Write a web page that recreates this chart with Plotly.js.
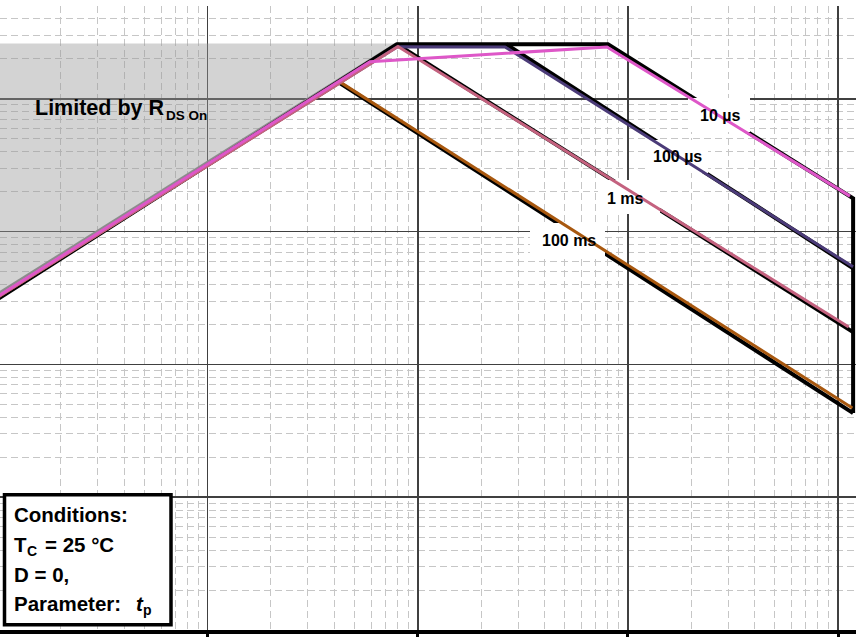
<!DOCTYPE html>
<html><head><meta charset="utf-8">
<script src="https://cdn.plot.ly/plotly-3.0.1.min.js"></script>
<style>html,body{margin:0;padding:0;background:#fff}#chart{width:856px;height:637px}</style>
</head><body><div id="chart"></div>
<script>
// ---- Data (drain-source voltage in V, drain current in A) ----
const rdsFillV = [0.1, 7.9, 0.1];
const rdsFillI = [3.35, 261, 261];
const rdsLineV = [0.1, 7.9];
const rdsLineI = [3.4, 261];

// black outline curves
const envelopeV = [0.1, 7.96, 80.4, 1180, 1180];
const envelopeI = [3.1, 258, 258, 17.8, 0.43];
const black100usV = [26.3, 1180];
const black100usI = [258, 5.3];
const black1msV = [7.96, 1180];
const black1msI = [258, 1.75];
const black100msV = [4.27, 1180];
const black100msI = [131, 0.43];

// coloured pulse-width curves
const us10V = [0.1, 5.92, 79.5, 1140];
const us10I = [3.25, 190, 246, 18.5];
const us100V = [0.1, 8.0, 26.0, 1180];
const us100I = [3.2, 247, 246, 5.43];
const ms1V = [0.1, 8.05, 1125];
const ms1I = [3.2, 248, 1.91];
const ms100V = [0.1, 4.27, 1170];
const ms100I = [3.2, 133.6, 0.47];

const curveLabels = ['10 µs', '100 µs', '1 ms', '100 ms'];

// ---- axis geometry ----
const W = 856, PT = 6, PB = 630;
const xRange = [Math.log10(0.1027), Math.log10(1218)];
const yRange = [-2, Math.log10(500)];
const px = p => p / W;
const py = q => (PB - q) / (PB - PT);
// pixel -> axis value (used only to place label backgrounds)
const pv = p => Math.pow(10, xRange[0] + px(p) * (xRange[1] - xRange[0]));
const qi = q => Math.pow(10, yRange[0] + py(q) * (yRange[1] - yRange[0]));

function line(x, y, color, width) {
  return {x: x, y: y, type: 'scatter', mode: 'lines', hoverinfo: 'skip',
          line: {color: color, width: width}};
}

// white backgrounds behind curve labels (above black outlines, below coloured curves)
const boxes = [
  [688, 750, 98, 132],
  [645, 708, 140, 173],
  [598, 660, 180, 214],
  [530, 605, 223, 257]
];
const boxTraces = boxes.map(b => ({
  x: [pv(b[0]), pv(b[1]), pv(b[1]), pv(b[0])],
  y: [qi(b[2]), qi(b[2]), qi(b[3]), qi(b[3])],
  type: 'scatter', mode: 'none', fill: 'toself', fillcolor: '#fff', hoverinfo: 'skip'
}));

const traces = [
  {x: rdsFillV, y: rdsFillI, type: 'scatter', mode: 'none', fill: 'toself',
   fillcolor: 'rgba(150,150,150,0.42)', hoverinfo: 'skip'},
  line(rdsLineV, rdsLineI, '#8c8c8c', 2.5),
  line(envelopeV, envelopeI, '#000', 4),
  line(black100usV, black100usI, '#000', 4),
  line(black1msV, black1msI, '#000', 4),
  line(black100msV, black100msI, '#000', 4),
  ...boxTraces,
  line(us100V, us100I, '#4b3b78', 3),
  line(ms100V, ms100I, '#a8580f', 3),
  line(ms1V, ms1I, '#c4627f', 3),
  line(us10V, us10I, '#de57c8', 3)
];

const shapes = [{type: 'rect', xref: 'paper', yref: 'paper',
  x0: px(4.5), x1: px(171), y0: py(624.7), y1: py(494.7),
  fillcolor: '#fff', line: {color: '#000', width: 3.5}, layer: 'above'}];

const font = 'Liberation Sans, Arial, sans-serif';
const annotations = [];
function txt(text, left, cy, size, anchor, italic) {
  annotations.push({text: text, xref: 'paper', yref: 'paper', x: px(left), y: py(cy),
    xanchor: anchor || 'left', yanchor: 'middle', showarrow: false, borderpad: 0, borderwidth: 0,
    font: {family: font, size: size, color: '#000', weight: 'bold', style: italic ? 'italic' : 'normal'}});
}
const labelPos = [[720, 115], [677, 156.5], [625.5, 198], [569, 240]];
curveLabels.forEach((t, i) => txt(t, labelPos[i][0], labelPos[i][1], 16, 'center'));

// "Limited by R_DS On"
txt('Limited by R', 34.5, 108.4, 21.5);
txt('DS On', 165.5, 115.8, 13.5);

// Conditions box
txt('Conditions:', 14, 514.8, 20.5);
txt('T', 14, 544.1, 20.5);
txt('C', 27, 550.6, 14);
txt('= 25 °C', 45, 544.1, 20.5);
txt('D = 0,', 14, 574.1, 20.5);
txt('Parameter:', 14, 603.5, 20.5);
txt('t', 136, 603.5, 20.5, 'left', true);
txt('p', 143, 609.8, 14);

const gridMinor = {dtick: 'D1', showgrid: true, gridcolor: '#c6c6c6', gridwidth: 1, griddash: '7px,4px', ticks: ''};

const layout = {
  width: 856, height: 637,
  margin: {l: 0, r: 0, t: PT, b: 637 - PB, pad: 0},
  paper_bgcolor: '#fff', plot_bgcolor: '#fff', showlegend: false,
  xaxis: {type: 'log', range: xRange, dtick: 1,
    showgrid: true, gridcolor: '#404040', gridwidth: 1.5, zeroline: false,
    showline: true, linecolor: '#000', linewidth: 4,
    ticks: 'outside', ticklen: 5, tickwidth: 3, tickcolor: '#000', showticklabels: false,
    minor: gridMinor, fixedrange: true},
  yaxis: {type: 'log', range: yRange, dtick: 1,
    showgrid: true, gridcolor: '#404040', gridwidth: 1.5, zeroline: false,
    showline: false, ticks: '', showticklabels: false,
    minor: gridMinor, fixedrange: true},
  shapes: shapes,
  annotations: annotations
};

Plotly.newPlot('chart', traces, layout, {staticPlot: true, displayModeBar: false});
</script></body></html>
